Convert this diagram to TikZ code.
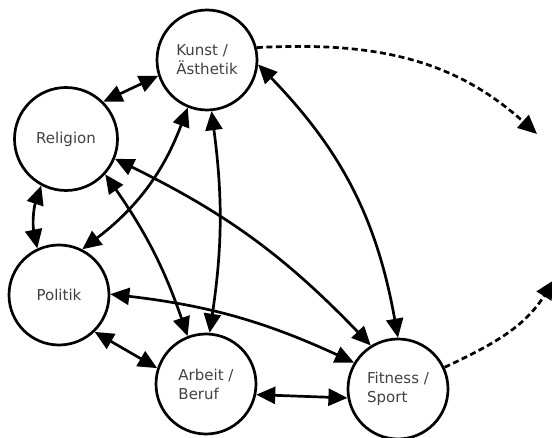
\documentclass[tikz,border=0pt]{standalone}
\usepackage{fontspec}
\setmainfont{DejaVu Sans}
\usetikzlibrary{arrows.meta}
\definecolor{txt}{HTML}{404040}
\tikzset{
  topic/.style={circle, draw=black, line width=2.7pt, minimum size=100pt, inner sep=0pt,
    font=\fontsize{15pt}{19pt}\selectfont, text=txt, align=left},
  tip/.style={Triangle[length=19pt,width=17pt]},
  link/.style={line width=2.7pt, {Triangle[length=19pt,width=17pt]}-{Triangle[length=19pt,width=17pt]}},
  outlink/.style={line width=2.7pt, dash pattern=on 6pt off 3.5pt, -{Triangle[length=19pt,width=17pt]}}
}
\begin{document}
\begin{tikzpicture}[x=1pt,y=1pt]
\useasboundingbox (0,0) rectangle (552,437);
\node[topic] (kun) at (207,377) {Kunst /\\Ästhetik};
\node[topic, minimum size=103pt] (rel) at (66,298) {Religion};
\node[topic] (pol) at (59,142) {Politik};
\node[topic] (arb) at (206,53) {Arbeit /\\Beruf};
\node[topic] (fit) at (398,48) {Fitness /\\Sport};
\coordinate (t1) at (537,303);
\coordinate (t2) at (554,157);
\draw[link] (rel.45) -- (kun.198);
\draw[link] (rel.242) to[bend right=15] (pol.115);
\draw[link] (pol.314) -- (arb.162);
\draw[link] (arb.348) -- (fit.190);
\draw[link] (kun.248) to[bend left=16] (pol.63);
\draw[link] (kun.275) to[bend left=8] (arb.86);
\draw[link] (kun.355) to[bend left=17] (fit.90);
\draw[link] (rel.318) to[bend left=8] (arb.111);
\draw[link] (rel.338) to[bend left=10] (fit.122);
\draw[link] (pol.1) to[bend left=9] (fit.149);
\draw[outlink] (kun.14) to[out=3, in=138] (t1);
\draw[outlink] (fit.25) to[out=25, in=238] (t2);
\end{tikzpicture}
\end{document}
